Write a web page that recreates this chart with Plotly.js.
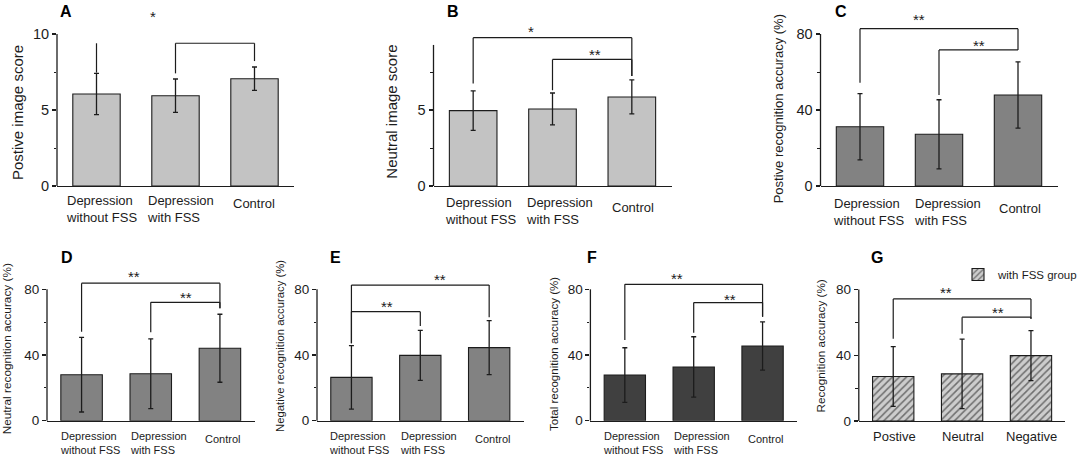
<!DOCTYPE html>
<html><head><meta charset="utf-8">
<script src="https://cdn.plot.ly/plotly-3.0.1.min.js"></script>
<style>html,body{margin:0;padding:0;background:#fff}#chart{width:1084px;height:466px}</style>
</head><body><div id="chart"></div>
<script>
// ---------- data ----------
const groups = ["Depression<br>without FSS", "Depression<br>with FSS", "Control"];
const emotions = ["Postive", "Neutral", "Negative"];

const positiveScoreMean = [6.05, 5.94, 7.06];
const positiveScoreSD   = [1.36, 1.10, 0.77];
const neutralScoreMean  = [4.96, 5.07, 5.86];
const neutralScoreSD    = [1.30, 1.05, 1.12];
const positiveAccMean   = [31.2, 27.2, 47.9];
const positiveAccSD     = [17.4, 18.2, 17.4];
const neutralAccMean    = [28.0, 28.6, 44.1];
const neutralAccSD      = [22.7, 21.2, 20.7];
const negativeAccMean   = [26.4, 39.8, 44.5];
const negativeAccSD     = [19.3, 15.2, 16.4];
const totalAccMean      = [27.8, 32.7, 45.5];
const totalAccSD        = [16.6, 18.4, 14.7];
const fssAccMean        = [27.1, 28.7, 39.8];
const fssAccSD          = [18.2, 21.2, 15.2];

// significance brackets: [fromIndex, toIndex, leftFoot, top, rightFoot]
const bracketsA = [[0, 0, 7.46, 9.39, 9.39], [1, 2, 7.41, 9.39, 8.22]];
const bracketsB = [[0, 2, 6.75, 9.76, 7.24], [1, 2, 6.30, 8.33, 7.24]];
const bracketsC = [[0, 2, 54.4, 82.8, 71.6], [1, 2, 47.9, 71.6, 71.6]];
const bracketsD = [[0, 2, 54.2, 83.7, 68.4], [1, 2, 53.8, 72.1, 68.4]];
const bracketsE = [[0, 2, 47.1, 82.6, 63.0], [0, 1, 47.1, 66.4, 57.7]];
const bracketsF = [[0, 2, 49.1, 83.0, 63.3], [1, 2, 53.6, 71.9, 63.3]];
const bracketsG = [[0, 2, 50.1, 74.3, 62.2], [1, 2, 53.1, 63.2, 62.2]];
// significance marks: [text, xPosition, yValue]
const starsA = [["*", 0.72, 11.4]];
const starsB = [["*", 0.73, 10.44], ["**", 1.53, 8.9]];
const starsC = [["**", 0.75, 90.0], ["**", 1.5, 76.3]];
const starsD = [["**", 0.76, 90.1], ["**", 1.51, 77.2]];
const starsE = [["**", 1.28, 88.7], ["**", 0.52, 71.9]];
const starsF = [["**", 0.76, 89.2], ["**", 1.52, 76.5]];
const starsG = [["**", 0.77, 80.6], ["**", 1.52, 68.3]];

const scoreTicks = [0, 5, 10], scoreMinor = [2.5, 7.5];
const accTicks = [0, 40, 80], accMinor = [20, 60];

// ---------- layout config ----------
const W = 1084, H = 466;
const INK = '#1c1c1c';
const FONT = 'Arial, "Liberation Sans", Helvetica, sans-serif';

const panels = [
 {letter:'A', cats:groups, mean:positiveScoreMean, sd:positiveScoreSD, br:bracketsA, st:starsA,
  color:'#c3c3c3', x0:57, x1:294, base:186, topPx:3, ppu:15.2, axisTop:10, major:scoreTicks, minor:scoreMinor,
  title:'Postive image score', tx:17, ty:113, tsize:15, ticksize:14.5, lx:66, ly:12,
  lab2y:208.7, lab1y:203, labsize:13, xs2:5, xs1:-1},
 {letter:'B', cats:groups, mean:neutralScoreMean, sd:neutralScoreSD, br:bracketsB, st:starsB,
  color:'#c3c3c3', x0:433.5, x1:671.5, base:186, topPx:3, ppu:15.2, axisTop:9.28, major:scoreTicks, minor:scoreMinor,
  title:'Neutral image score', tx:391.7, ty:112, tsize:15, ticksize:14.5, lx:453, ly:11,
  lab2y:211, lab1y:207, labsize:13, xs2:7, xs1:1},
 {letter:'C', cats:groups, mean:positiveAccMean, sd:positiveAccSD, br:bracketsC, st:starsC,
  color:'#828282', x0:820.5, x1:1057.5, base:186, topPx:3, ppu:1.9, axisTop:80, major:accTicks, minor:accMinor,
  title:'Postive recognition accuracy (%)', tx:779.3, ty:109, tsize:13, ticksize:14.5, lx:841, ly:11,
  lab2y:212.5, lab1y:208, labsize:13, xs2:8, xs1:2},
 {letter:'D', cats:groups, mean:neutralAccMean, sd:neutralAccSD, br:bracketsD, st:starsD,
  color:'#828282', x0:47, x1:254.5, base:420.7, topPx:262, ppu:1.6425, axisTop:80, major:accTicks, minor:accMinor,
  title:'Neutral recognition accuracy (%)', tx:7.3, ty:349, tsize:11.8, ticksize:13.5, lx:67, ly:257.5,
  lab2y:442.8, lab1y:439.3, labsize:11, xs2:8, xs1:3},
 {letter:'E', cats:groups, mean:negativeAccMean, sd:negativeAccSD, br:bracketsE, st:starsE,
  color:'#828282', x0:317, x1:523.6, base:420.7, topPx:262, ppu:1.6425, axisTop:80, major:accTicks, minor:accMinor,
  title:'Negative recognition accuracy (%)', tx:280, ty:346, tsize:11.3, ticksize:13.5, lx:335, ly:257.5,
  lab2y:442.8, lab1y:439.3, labsize:11, xs2:8, xs1:3},
 {letter:'F', cats:groups, mean:totalAccMean, sd:totalAccSD, br:bracketsF, st:starsF,
  color:'#404040', x0:590.4, x1:797, base:420.7, topPx:262, ppu:1.6425, axisTop:80, major:accTicks, minor:accMinor,
  title:'Total recognition accuracy (%)', tx:554, ty:354, tsize:11.5, ticksize:13.5, lx:592, ly:257,
  lab2y:442.8, lab1y:439.3, labsize:11, xs2:8, xs1:3},
 {letter:'G', cats:emotions, mean:fssAccMean, sd:fssAccSD, br:bracketsG, st:starsG,
  color:'#cdcdcd', hatch:true, x0:858.8, x1:1065.4, base:421, topPx:262, ppu:1.6425, axisTop:80, major:accTicks, minor:accMinor,
  title:'Recognition accuracy (%)', tx:820, ty:346.5, tsize:11.7, ticksize:13.5, lx:876.7, ly:257.5,
  lab2y:436.5, lab1y:436.5, labsize:13, xs2:0, xs1:1}
];

const data = [];
const layout = {
  width: W, height: H, margin: {l:0, r:0, t:0, b:0},
  paper_bgcolor: '#fff', plot_bgcolor: 'rgba(0,0,0,0)',
  font: {family: FONT, color: INK},
  showlegend: true,
  legend: {x: 958/W, y: 1 - 260/H, xanchor:'left', yanchor:'top', bgcolor:'rgba(0,0,0,0)',
           font:{size:11.5, family:FONT, color:INK}, itemwidth:30, tracegroupgap:0},
  shapes: [], annotations: [], bargap: 0.4
};

panels.forEach((p, i) => {
  const n = i === 0 ? '' : String(i + 1);
  const xa = 'x' + n, ya = 'y' + n;
  const rTop = (p.base - p.topPx) / p.ppu;
  const marker = {color: p.color, line: {color: INK, width: 1.1}};
  if (p.hatch) marker.pattern = {shape: '/', fgcolor: '#6e6e6e', bgcolor: '#cdcdcd', size: 5, solidity: 0.3};
  data.push({
    type: 'bar', x: p.cats, y: p.mean, xaxis: xa, yaxis: ya, width: 0.6,
    name: p.hatch ? 'with FSS group' : p.letter, showlegend: !!p.hatch,
    marker: marker, hoverinfo: 'x+y',
    error_y: {type: 'data', array: p.sd, visible: true, color: INK, thickness: 1.3, width: 2.5}
  });
  layout['xaxis' + n] = {
    domain: [p.x0 / W, p.x1 / W], anchor: ya, type: 'category', range: [-0.5, 2.5],
    showline: true, linecolor: INK, linewidth: 1.3, ticks: '', showticklabels: false,
    showgrid: false, zeroline: false, fixedrange: true
  };
  layout['yaxis' + n] = {
    domain: [(H - p.base) / H, (H - p.topPx) / H], anchor: xa, range: [0, rTop],
    showline: false, showgrid: false, zeroline: false, fixedrange: true,
    ticks: 'outside', ticklen: 4, tickwidth: 1.2, tickcolor: INK,
    tickmode: 'array', tickvals: p.major.filter(v => v <= p.axisTop + 1e-9),
    ticktext: p.major.filter(v => v <= p.axisTop + 1e-9).map(String),
    tickfont: {size: p.ticksize, family: FONT, color: INK},
    minor: {tickmode: 'array', tickvals: p.minor, ticks: 'outside', ticklen: 2.5, tickwidth: 1, tickcolor: INK, showgrid: false}
  };
  // visible y-axis line up to axisTop
  layout.shapes.push({type: 'line', xref: xa + ' domain', yref: ya + ' domain', x0: 0, x1: 0, y0: 0, y1: p.axisTop / rTop,
                      line: {color: INK, width: 1.3}});
  // brackets
  p.br.forEach(b => {
    const [a, c, f1, top, f2] = b;
    const ln = {color: INK, width: 1.2};
    layout.shapes.push({type: 'line', xref: xa, yref: ya, x0: a, x1: a, y0: f1, y1: top, line: ln});
    if (a !== c) {
      layout.shapes.push({type: 'line', xref: xa, yref: ya, x0: a, x1: c, y0: top, y1: top, line: ln});
      layout.shapes.push({type: 'line', xref: xa, yref: ya, x0: c, x1: c, y0: f2, y1: top, line: ln});
    }
  });
  p.st.forEach(s => {
    layout.annotations.push({xref: xa, yref: ya, x: s[1], y: s[2], text: s[0], showarrow: false,
      yshift: -4, font: {size: 15, family: FONT, color: INK}});
  });
  // category labels
  p.cats.forEach((c, k) => {
    const two = c.indexOf('<br>') >= 0;
    layout.annotations.push({xref: xa, yref: 'paper', x: k, y: 1 - (two ? p.lab2y : p.lab1y) / H,
      text: c, showarrow: false, align: 'left', xanchor: 'center', yanchor: 'middle',
      xshift: two ? p.xs2 : p.xs1, font: {size: p.labsize, family: FONT, color: INK}});
  });
  // y title
  layout.annotations.push({xref: 'paper', yref: 'paper', x: p.tx / W, y: 1 - p.ty / H, text: p.title,
    textangle: -90, showarrow: false, xanchor: 'center', yanchor: 'middle',
    font: {size: p.tsize, family: FONT, color: INK}});
  // panel letter
  layout.annotations.push({xref: 'paper', yref: 'paper', x: p.lx / W, y: 1 - p.ly / H, text: '<b>' + p.letter + '</b>',
    showarrow: false, xanchor: 'center', yanchor: 'middle', font: {size: 16, family: FONT, color: '#000'}});
});

Plotly.newPlot('chart', data, layout, {displayModeBar: false, staticPlot: true});
</script>
</body></html>
